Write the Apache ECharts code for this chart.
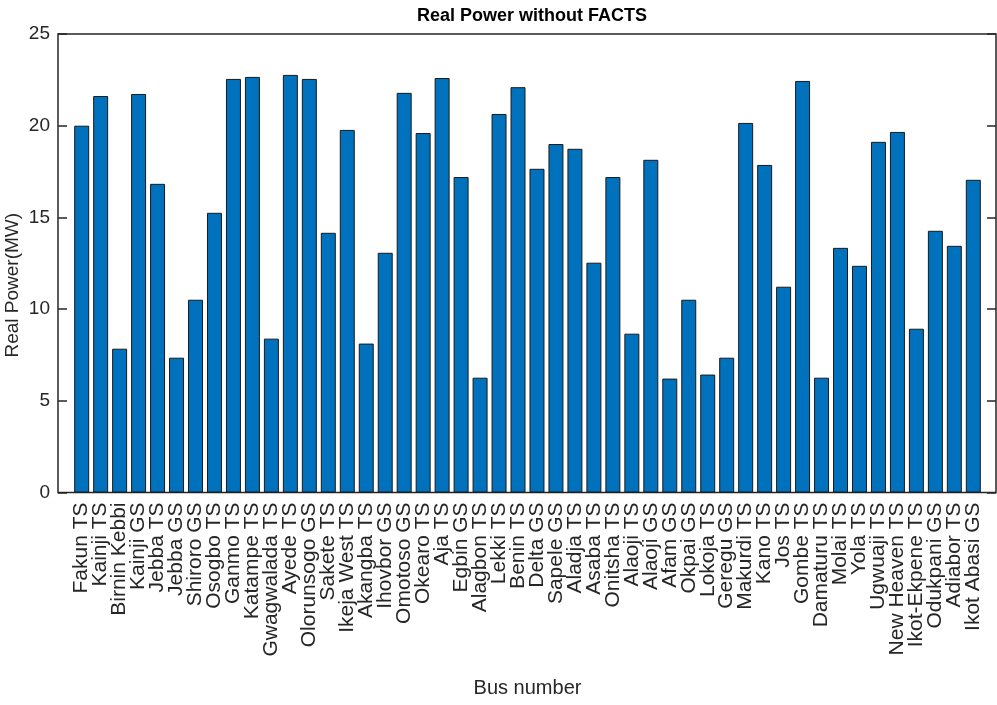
<!DOCTYPE html>
<html>
<head>
<meta charset="utf-8">
<script src="https://cdn.jsdelivr.net/npm/echarts@6/dist/echarts.min.js"></script>
<style>html,body{margin:0;padding:0;background:#fff;}#chart{width:997px;height:705px;}</style>
</head>
<body>
<div id="chart"></div>
<script>
const categories = ["Fakun TS","Kainji TS","Birnin Kebbi","Kainji GS","Jebba TS","Jebba GS","Shiroro GS","Osogbo TS","Ganmo TS","Katampe TS","Gwagwalada TS","Ayede TS","Olorunsogo GS","Sakete TS","Ikeja West TS","Akangba TS","Ihovbor GS","Omotoso GS","Okearo TS","Aja TS","Egbin GS","Alagbon TS","Lekki TS","Benin TS","Delta GS","Sapele GS","Aladja TS","Asaba TS","Onitsha TS","Alaoji TS","Alaoji GS","Afam GS","Okpai GS","Lokoja TS","Geregu GS","Makurdi TS","Kano TS","Jos TS","Gombe TS","Damaturu TS","Molai TS","Yola TS","Ugwuaji TS","New Heaven TS","Ikot-Ekpene TS","Odukpani GS","Adiabor TS","Ikot Abasi GS"];
const realPower = [20.0,21.62,7.84,21.73,16.83,7.35,10.51,15.25,22.55,22.66,8.39,22.77,22.55,14.16,19.77,8.12,13.07,21.79,19.6,22.6,17.2,6.26,20.64,22.1,17.65,19.0,18.74,12.53,17.2,8.66,18.14,6.21,10.51,6.43,7.35,20.15,17.86,11.22,22.44,6.26,13.34,12.36,19.12,19.66,8.93,14.27,13.45,17.05];
const yMin = 0, yMax = 25, yStep = 5;

const FONT = "'Liberation Sans', Arial, Helvetica, sans-serif";
const INK = '#262626';
const chart = echarts.init(document.getElementById('chart'), null, {renderer:'canvas'});
chart.setOption({
  animation: false,
  backgroundColor: '#ffffff',
  title: {
    text: 'Real Power without FACTS', left: 527, top: 2, textAlign: 'center',
    textStyle: {fontFamily: FONT, fontSize: 18, fontWeight: 'bold', color: '#000'}
  },
  grid: [
    {left: 58, top: 34, right: 1, bottom: 212.5, show: true, borderColor: INK, borderWidth: 1.5,
     backgroundColor: 'transparent', containLabel: false, outerBoundsMode: 'none'},
    {left: 72.2, top: 34, right: 14.2, bottom: 212.5, containLabel: false, outerBoundsMode: 'none'}
  ],
  xAxis: [
    {gridIndex: 1, type: 'category', data: categories, position: 'bottom',
     axisLine: {show: false},
     axisTick: {inside: true, alignWithLabel: true, length: 12, lineStyle: {color: INK, width: 1}},
     axisLabel: {rotate: 90, fontSize: 21, margin: 10, color: INK, fontFamily: FONT, interval: 0},
     name: 'Bus number', nameLocation: 'middle', nameGap: 186, nameMoveOverlap: false,
     nameTextStyle: {fontFamily: FONT, fontSize: 20, color: INK}},
    {gridIndex: 1, type: 'category', data: categories, position: 'top',
     axisLine: {show: false},
     axisTick: {inside: true, alignWithLabel: true, length: 13, interval: 0, lineStyle: {color: INK, width: 1}},
     axisLabel: {show: false}},
    {gridIndex: 0, type: 'value', min: 0, max: 1, show: false}
  ],
  yAxis: [
    {gridIndex: 0, type: 'value', min: yMin, max: yMax, interval: yStep, position: 'left',
     axisLine: {show: false}, splitLine: {show: false},
     axisTick: {inside: true, length: 9, lineStyle: {color: INK, width: 1.5}},
     axisLabel: {fontSize: 19, margin: 8, color: INK, fontFamily: FONT},
     name: 'Real Power(MW)', nameLocation: 'middle', nameGap: 36, nameRotate: 90, nameMoveOverlap: false,
     nameTextStyle: {fontFamily: FONT, fontSize: 19, color: INK, padding: [0, 44, 0, 0]}},
    {gridIndex: 0, type: 'value', min: yMin, max: yMax, interval: yStep, position: 'right',
     axisLine: {show: false}, splitLine: {show: false},
     axisTick: {inside: true, length: 9, lineStyle: {color: INK, width: 1.5}},
     axisLabel: {show: false}},
    {gridIndex: 1, type: 'value', min: yMin, max: yMax, show: false}
  ],
  series: [{
    type: 'bar', xAxisIndex: 0, yAxisIndex: 2, data: realPower, barWidth: '79%',
    itemStyle: {color: '#0072BD', borderColor: '#1a1a1a', borderWidth: 1}
  }]
});
</script>
</body>
</html>
